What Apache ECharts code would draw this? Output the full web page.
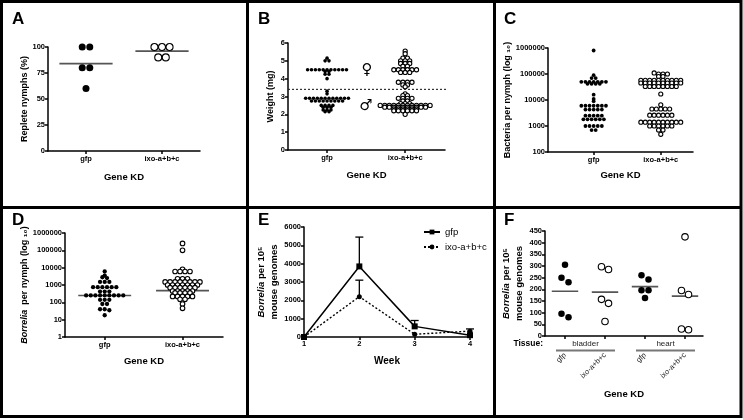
<!DOCTYPE html>
<html>
<head>
<meta charset="utf-8">
<script src="https://cdn.jsdelivr.net/npm/echarts@6/dist/echarts.min.js"></script>
<style>
  html, body { margin: 0; padding: 0; background: #fff; }
  #chart { width: 743px; height: 420px; }
</style>
</head>
<body>
<div id="chart"></div>
<script>
// --- Data ---
const geneKD = ['gfp', 'ixo-a+b+c'];

// A: replete nymphs (%)
const aGfp = [100, 100, 80, 80, 60];
const aIxo = [100, 100, 100, 90, 90];

// B: nymph weight (mg), dashed line splits female / male
const bCutoff = 3.4;
const bGfp = [5.15, 5.0, 5.0,
  4.5, 4.5, 4.5, 4.5, 4.5, 4.5, 4.5, 4.5, 4.5, 4.5, 4.5,
  4.4, 4.4, 4.25, 4.25, 4.0,
  3.3, 3.15,
  2.9, 2.9, 2.9, 2.9, 2.9, 2.9, 2.9, 2.9, 2.9, 2.9, 2.9, 2.9,
  2.75, 2.75, 2.75, 2.75, 2.75, 2.75, 2.75, 2.75, 2.75,
  2.5, 2.5, 2.5, 2.5, 2.4, 2.4, 2.4, 2.25, 2.25, 2.25, 2.15, 2.15];
const bIxo = [5.55, 5.4, 5.15, 5.15, 5.0, 5.0, 5.0, 4.85, 4.85, 4.85, 4.7, 4.7,
  4.5, 4.5, 4.5, 4.5, 4.5, 4.5, 4.35, 4.35, 4.35,
  3.8, 3.8, 3.8, 3.8, 3.65, 3.65, 3.55,
  3.15, 3.05, 3.05, 2.9, 2.9, 2.9, 2.9, 2.75, 2.75, 2.6, 2.6, 2.6,
  2.5, 2.5, 2.5, 2.5, 2.5, 2.5, 2.5, 2.5, 2.5, 2.5, 2.5, 2.5,
  2.4, 2.4, 2.4, 2.4, 2.4, 2.4, 2.4, 2.4, 2.4, 2.4,
  2.3, 2.3, 2.3, 2.3, 2.3, 2.3, 2.2, 2.2, 2.2, 2.2, 2.2, 2.2, 2.0];

// C: bacteria per nymph
const cGfp = [800000, 90000, 70000, 70000,
  50000, 50000, 50000, 50000, 50000, 50000, 50000, 42000, 42000, 42000, 42000,
  16000, 11000, 9000,
  6000, 6000, 6000, 6000, 6000, 6000, 6000,
  4300, 4300, 4300, 4300, 4300,
  2500, 2500, 2500, 2500, 2500,
  1800, 1800, 1800, 1800, 1800, 1800,
  1000, 1000, 1000, 1000, 1000, 700, 700];
const cIxo = [110000, 100000, 100000, 100000, 80000, 80000,
  57000, 57000, 57000, 57000, 57000, 57000, 57000, 57000, 57000, 57000,
  45000, 45000, 45000, 45000, 45000, 45000, 45000, 45000, 45000, 45000,
  33000, 33000, 33000, 33000, 33000, 33000, 33000, 33000,
  17000,
  6500, 4500, 4500, 4500, 4500, 4500,
  2600, 2600, 2600, 2600, 2600, 2600,
  1400, 1400, 1400, 1400, 1400, 1400, 1400, 1400, 1400, 1400,
  1000, 1000, 1000, 1000, 1000, 1000, 700, 700, 480];

// D: Borrelia per nymph, with the centre line of each group
const dGfp = [6000, 3500, 2800, 2500, 1500, 1500, 1500,
  750, 750, 750, 750, 750, 750, 420, 420, 420,
  250, 250, 250, 250, 250, 250, 250, 250, 250,
  140, 140, 140, 80, 80, 40, 40, 35, 18];
const dIxo = [250000, 100000, 8000, 6000, 6000, 6000, 6000, 2300, 2300, 2300,
  1500, 1500, 1500, 1500, 1500, 1500, 1500, 1500,
  1000, 1000, 1000, 1000, 1000, 1000, 1000,
  700, 700, 700, 700, 700, 700, 450, 450, 450, 450, 450,
  350, 350, 350, 350, 220, 220, 220, 220, 220, 150, 150, 80, 45];
const dLine = [250, 475];

// E: Borrelia per 10^5 mouse genomes over time
const weeks = [1, 2, 3, 4];
const eGfp = [0, 3850, 580, 100];
const eGfpErr = [0, 1600, 320, 0];
const eIxo = [0, 2200, 150, 320];
const eIxoErr = [0, 900, 0, 120];

// F: Borrelia per 10^5 mouse genomes by tissue
const tissues = ['bladder', 'heart'];
const fLabels = ['gfp', 'ixo-a+b+c', 'gfp', 'ixo-a+b+c'];
const fBladderGfp = [305, 250, 230, 95, 80];
const fBladderIxo = [297, 285, 157, 140, 62];
const fHeartGfp = [260, 242, 196, 196, 163];
const fHeartIxo = [425, 195, 178, 30, 27];

// --- Layout ---
const FONT = 'Liberation Sans, Arial, sans-serif';
const G = {
  A: { left: 48, top: 47, width: 152, height: 104 },
  B: { left: 288, top: 43, width: 157, height: 107 },
  C: { left: 548, top: 48, width: 145, height: 104 },
  D: { left: 65, top: 233, width: 158, height: 104 },
  E: { left: 304, top: 227, width: 166, height: 110 },
  F: { left: 545, top: 231, width: 158, height: 105 }
};
const XR = { A: [0.5, 2.5], B: [0.5, 2.51], C: [0.32, 2.48], D: [0.49, 2.52], E: [1, 4], F: [0.5, 4.45] };
const YR = { A: [0, 100], B: [0, 6], C: [100, 1000000], D: [1, 1000000], E: [0, 6000], F: [0, 450] };
const LOG = { C: true, D: true };

function yPx(key, v) {
  const g = G[key], r = YR[key];
  let t;
  if (LOG[key]) t = (Math.log10(r[1]) - Math.log10(v)) / (Math.log10(r[1]) - Math.log10(r[0]));
  else t = (r[1] - v) / (r[1] - r[0]);
  return g.top + g.height * t;
}

// Prism-style column scatter: points closer than rowTol (x symbol size) in height
// form a centred row; rows next to each other may overlap
function swarm(values, center, key, size, rowTol) {
  const pxPerX = G[key].width / (XR[key][1] - XR[key][0]);
  const sorted = values.slice().sort((a, b) => b - a);
  const rows = [];
  let row = null;
  sorted.forEach(v => {
    const py = yPx(key, v);
    if (row && py - row.py < size * rowTol) row.vals.push(v);
    else { row = { py: py, vals: [v] }; rows.push(row); }
  });
  const pts = [];
  rows.forEach(r => {
    const n = r.vals.length;
    r.vals.forEach((v, i) => {
      pts.push([center + (i - (n - 1) / 2) * size * 1.08 / pxPerX, v]);
    });
  });
  return pts;
}

const mean = a => a.reduce((s, v) => s + v, 0) / a.length;

function merge(base, o) {
  const out = Object.assign({}, base);
  Object.keys(o || {}).forEach(k => {
    if (o[k] && typeof o[k] === 'object' && !Array.isArray(o[k]) && typeof base[k] === 'object') out[k] = Object.assign({}, base[k], o[k]);
    else out[k] = o[k];
  });
  return out;
}

const axisBase = {
  axisLine: { show: true, lineStyle: { color: '#000', width: 1.5 } },
  axisTick: { show: true, length: 3, lineStyle: { color: '#000', width: 1.5 } },
  axisLabel: { color: '#000', fontSize: 7.5, fontWeight: 'bold', fontFamily: FONT, margin: 3 },
  splitLine: { show: false },
  nameLocation: 'middle',
  nameTextStyle: { color: '#000', fontSize: 9, fontWeight: 'bold', fontFamily: FONT, rich: { i: { fontStyle: 'italic' } } }
};

const keys = ['A', 'B', 'C', 'D', 'E', 'F'];
const grids = keys.map(k => Object.assign({}, G[k]));

function yAxisFor(k, o) {
  const i = keys.indexOf(k);
  const r = YR[k];
  return merge(axisBase, Object.assign({ gridIndex: i, type: LOG[k] ? 'log' : 'value', min: r[0], max: r[1], nameRotate: 90 }, o));
}
function xAxisFor(k, o) {
  const i = keys.indexOf(k);
  const r = XR[k];
  return merge(axisBase, Object.assign({ gridIndex: i, type: 'value', min: r[0], max: r[1] }, o));
}
const geneAxis = (k, gap) => xAxisFor(k, {
  name: 'Gene KD', nameGap: gap, nameTextStyle: { fontSize: 9.5 },
  axisLabel: { customValues: [1, 2], formatter: v => geneKD[v - 1], margin: 4 },
  axisTick: { customValues: [1, 2] }
});
const plainLabel = { formatter: v => String(Math.round(v)) };

const xAxes = [
  geneAxis('A', 21),
  geneAxis('B', 20),
  geneAxis('C', 18),
  geneAxis('D', 19),
  xAxisFor('E', { interval: 1, name: 'Week', nameGap: 19, nameTextStyle: { fontSize: 10 } }),
  xAxisFor('F', {
    name: 'Gene KD', nameGap: 53, nameTextStyle: { fontSize: 9.5 },
    axisLabel: { customValues: [1, 2, 3, 4], formatter: v => fLabels[v - 1], rotate: 45, margin: 18, fontWeight: 'normal', color: '#222' },
    axisTick: { customValues: [1, 2, 3, 4] }
  })
];
const yAxes = [
  yAxisFor('A', { interval: 25, name: 'Replete nymphs (%)', nameGap: 19 }),
  yAxisFor('B', { interval: 1, name: 'Weight (mg)', nameGap: 13 }),
  yAxisFor('C', { name: 'Bacteria per nymph (log ₁₀)', nameGap: 31, axisLabel: plainLabel }),
  yAxisFor('D', { name: '{i|Borrelia}  per nymph (log ₁₀)', nameGap: 26, splitNumber: 6, axisLabel: plainLabel }),
  yAxisFor('E', { interval: 1000, name: '{i|Borrelia} per 10⁵\nmouse genomes', nameGap: 22, axisLabel: plainLabel, nameTextStyle: { fontSize: 9.5, lineHeight: 13 } }),
  yAxisFor('F', { interval: 50, name: '{i|Borrelia} per 10⁵\nmouse genomes', nameGap: 16, nameTextStyle: { fontSize: 9.5, lineHeight: 13 } })
];

const series = [];
function dots(k, vals, center, size, open, name, rowTol) {
  const i = keys.indexOf(k);
  series.push({
    type: 'scatter', name: name, xAxisIndex: i, yAxisIndex: i, clip: false,
    symbol: 'circle', symbolSize: size,
    itemStyle: open ? { color: '#fff', borderColor: '#000', borderWidth: 1.1, opacity: 1 } : { color: '#000', opacity: 1 },
    data: swarm(vals, center, k, size, rowTol || 0.35), z: 3
  });
}
function hline(k, center, half, y, style, name) {
  const i = keys.indexOf(k);
  series.push({
    type: 'line', name: name, xAxisIndex: i, yAxisIndex: i, symbol: 'none', clip: false, silent: true,
    lineStyle: Object.assign({ color: '#555', width: 1.6 }, style),
    data: [[center - half, y], [center + half, y]], z: 2
  });
}

// A
dots('A', aGfp, 1, 7, false, 'A gfp');
dots('A', aIxo, 2, 7, true, 'A ixo');
hline('A', 1, 0.35, mean(aGfp), {}, 'A gfp mean');
hline('A', 2, 0.35, mean(aIxo), {}, 'A ixo mean');
// B
hline('B', (XR.B[0] + XR.B[1]) / 2 + 0.02, (XR.B[1] - XR.B[0]) / 2 + 0.02, bCutoff, { color: '#222', width: 1.1, type: [2, 2] }, 'B cutoff');
dots('B', bGfp, 1, 3.6, false, 'B gfp');
dots('B', bIxo, 2, 4.2, true, 'B ixo');
// C
dots('C', cGfp, 1, 3.8, false, 'C gfp');
dots('C', cIxo, 2, 4.1, true, 'C ixo');
// D
dots('D', dGfp, 1, 4.3, false, 'D gfp');
dots('D', dIxo, 2, 4.6, true, 'D ixo');
hline('D', 1, 0.34, dLine[0], {}, 'D gfp line');
hline('D', 2, 0.34, dLine[1], {}, 'D ixo line');
// F
[fBladderGfp, fBladderIxo, fHeartGfp, fHeartIxo].forEach((vals, j) => {
  dots('F', vals, j + 1, 6.5, j % 2 === 1, 'F ' + j, 0.95);
  hline('F', j + 1, 0.33, mean(vals), {}, 'F mean ' + j);
});

// E: lines with upward error bars
const eIdx = keys.indexOf('E');
function errBars(vals, errs, name) {
  series.push({
    type: 'custom', name: name, xAxisIndex: eIdx, yAxisIndex: eIdx, silent: true, z: 1,
    data: weeks.map((w, i) => [w, vals[i], vals[i] + errs[i]]),
    encode: { x: 0, y: [1, 2] },
    renderItem: (params, api) => {
      if (api.value(2) <= api.value(1)) return null;
      const p0 = api.coord([api.value(0), api.value(1)]);
      const p1 = api.coord([api.value(0), api.value(2)]);
      const st = { stroke: '#000', lineWidth: 1.3 };
      return {
        type: 'group', children: [
          { type: 'line', shape: { x1: p0[0], y1: p0[1], x2: p1[0], y2: p1[1] }, style: st },
          { type: 'line', shape: { x1: p1[0] - 4, y1: p1[1], x2: p1[0] + 4, y2: p1[1] }, style: st }
        ]
      };
    }
  });
}
errBars(eGfp, eGfpErr, 'gfp err');
errBars(eIxo, eIxoErr, 'ixo err');
series.push({
  type: 'line', name: 'gfp', xAxisIndex: eIdx, yAxisIndex: eIdx, clip: false,
  data: weeks.map((w, i) => [w, eGfp[i]]),
  symbol: 'rect', symbolSize: 6, itemStyle: { color: '#000' },
  lineStyle: { color: '#000', width: 1.5 }, z: 3
});
series.push({
  type: 'line', name: 'ixo-a+b+c', xAxisIndex: eIdx, yAxisIndex: eIdx, clip: false,
  data: weeks.map((w, i) => [w, eIxo[i]]),
  symbol: 'circle', symbolSize: 5, itemStyle: { color: '#000' },
  lineStyle: { color: '#000', width: 1.4, type: [2, 2] }, z: 3
});

// --- Frames, panel letters and annotations ---
const frame = { stroke: '#000', lineWidth: 3 };
const letter = (t, x, y) => ({ type: 'text', x: x, y: y, style: { text: t, fontSize: 17, fontWeight: 'bold', fontFamily: FONT, fill: '#000', verticalAlign: 'top' } });
const fx = n => G.F.left + (n - XR.F[0]) * G.F.width / (XR.F[1] - XR.F[0]);
const graphics = [
  { type: 'rect', shape: { x: 1.5, y: 1.5, width: 739.5, height: 415 }, style: Object.assign({ fill: 'none' }, frame) },
  { type: 'line', shape: { x1: 247.5, y1: 1.5, x2: 247.5, y2: 416.5 }, style: frame },
  { type: 'line', shape: { x1: 494.5, y1: 1.5, x2: 494.5, y2: 416.5 }, style: frame },
  { type: 'line', shape: { x1: 1.5, y1: 207.5, x2: 741, y2: 207.5 }, style: frame },
  letter('A', 12, 11), letter('B', 258, 11), letter('C', 504, 11),
  letter('D', 12, 212), letter('E', 258, 212), letter('F', 504, 212),
  { type: 'text', x: 367, y: 70, style: { text: '♀', fontSize: 15, fontFamily: 'DejaVu Sans', fill: '#000', align: 'center', verticalAlign: 'middle' } },
  { type: 'text', x: 366, y: 106, style: { text: '♂', fontSize: 15, fontFamily: 'DejaVu Sans', fill: '#000', align: 'center', verticalAlign: 'middle' } },
  { type: 'text', x: G.F.left - 2, y: 344, style: { text: 'Tissue:', fontSize: 8.5, fontWeight: 'bold', fontFamily: FONT, fill: '#000', align: 'right', verticalAlign: 'middle' } }
];
tissues.forEach((t, j) => {
  const x1 = fx(2 * j + 1) - 9, x2 = fx(2 * j + 2) + 10;
  graphics.push({ type: 'text', x: (x1 + x2) / 2, y: 344, style: { text: t, fontSize: 8, fontFamily: FONT, fill: '#222', align: 'center', verticalAlign: 'middle' } });
  graphics.push({ type: 'line', shape: { x1: x1, y1: 350.5, x2: x2, y2: 350.5 }, style: { stroke: '#777', lineWidth: 2 } });
});

const chart = echarts.init(document.getElementById('chart'), null, { renderer: 'canvas' });
chart.setOption({
  animation: false,
  backgroundColor: '#fff',
  grid: grids,
  xAxis: xAxes,
  yAxis: yAxes,
  legend: {
    data: ['gfp', 'ixo-a+b+c'], orient: 'vertical', left: 418, top: 222,
    itemWidth: 16, itemHeight: 6, itemGap: 5,
    textStyle: { fontSize: 9.5, fontFamily: FONT, color: '#000' }
  },
  series: series,
  graphic: graphics
});
</script>
</body>
</html>
